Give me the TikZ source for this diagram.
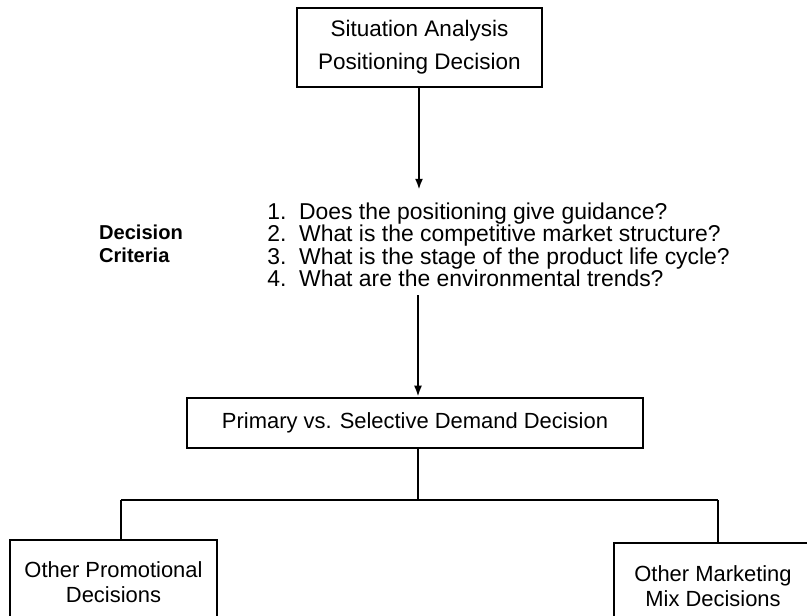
\documentclass[tikz,border=0pt]{standalone}
\usepackage{fontspec}
\setmainfont{Liberation Sans}
\usetikzlibrary{arrows.meta}

\begin{document}
\begin{tikzpicture}[x = 0.025cm, y = -0.025cm,
		box/.style = {draw, line width = 1.5pt, align = center, inner sep = 0pt},
		link/.style = {line width = 2pt},
		flow/.style = {link, -{Latex[length = 0.28cm, width = 0.2cm]}}]
		\useasboundingbox (0, 0) rectangle (807, 616);
		\clip (0, 0) rectangle (807, 616);
		% part for the top box
		\node[box, minimum width = 6.125cm, minimum height = 1.975cm,
			font = \fontsize{16}{23.4}\selectfont] (situation) at (419.5, 47.5)
			{Situation Analysis\\Positioning Decision};
		% part for the criteria
		\node[align = left, font = \bfseries\fontsize{14.3}{16.5}\selectfont]
			(label) at (141, 243.5) {Decision\\Criteria};
		\node[align = left, anchor = west, inner sep = 0pt,
			font = \fontsize{16.3}{16}\selectfont] (criteria) at (267, 245)
			{1.\ \ Does the positioning give guidance?\\
			 2.\ \ What is the competitive market structure?\\
			 3.\ \ What is the stage of the product life cycle?\\
			 4.\ \ What are the environmental trends?};
		\coordinate (crit in) at (419, 190);
		\coordinate (crit out) at (418, 295);
		% part for the demand box
		\node[box, minimum width = 11.4cm, minimum height = 1.25cm,
			font = \fontsize{15.6}{18}\selectfont] (demand) at (415, 423)
			{Primary vs. Selective Demand Decision};
		% part for the lower boxes
		\node[box, minimum width = 5.175cm, minimum height = 2.1cm,
			font = \fontsize{15.6}{17.5}\selectfont] (promo) at (113.5, 582)
			{Other Promotional\\Decisions};
		\node[box, minimum width = 4.95cm, minimum height = 2.15cm,
			font = \fontsize{15.6}{17.5}\selectfont] (mix) at (713, 586)
			{Other Marketing\\Mix Decisions};
		\coordinate (split) at (418, 500);
		\coordinate (left drop) at (121, 500);
		\coordinate (right drop) at (718, 500);
		% connectors
		\draw[flow] (situation.south -| crit in) -- (crit in);
		\draw[flow] (crit out) -- (crit out |- demand.north);
		\draw[link] (demand.south -| split) -- (split);
		\draw[link] (left drop) -- (right drop);
		\draw[link] (left drop) -- (left drop |- promo.north);
		\draw[link] (right drop) -- (right drop |- mix.north);
	\end{tikzpicture}
\end{document}
